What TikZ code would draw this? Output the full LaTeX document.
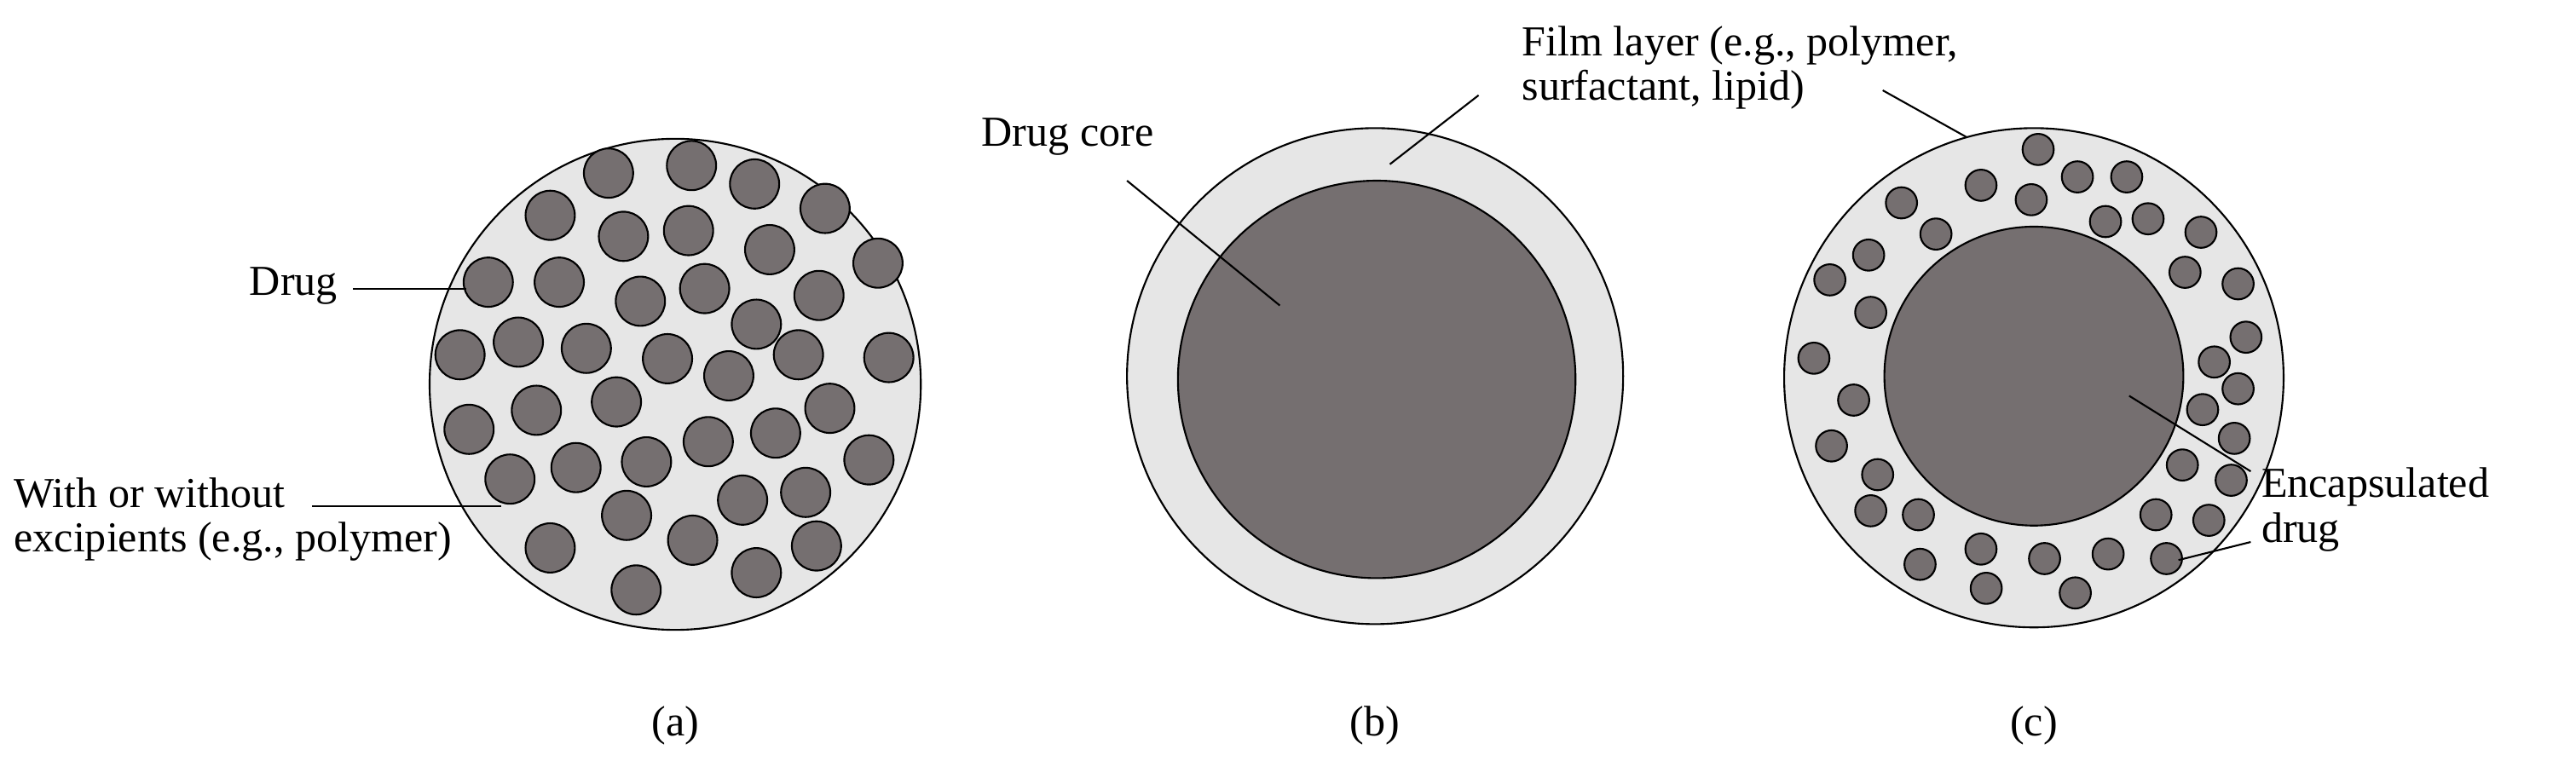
\documentclass[tikz,border=0pt]{standalone}
\usepackage{fontspec}
\setmainfont{Liberation Serif}
\definecolor{drugc}{RGB}{117,111,112}
\definecolor{filmc}{RGB}{230,230,230}
\begin{document}
\begin{tikzpicture}[x=1pt,y=-1pt,line width=1.1pt,
  film/.style={draw=black,fill=filmc},
  drug/.style={draw=black,fill=drugc},
  lbl/.style={font=\fontsize{26}{27}\selectfont,inner sep=0pt,align=left},
  lead/.style={line width=1.1pt}]
\useasboundingbox (0,0) rectangle (1568,477);
% (a)
\draw[film] (411,234) circle (149.5);
\foreach \x/\y in {370.4/105.4,420.9/100.8,459.3/112.0,502.2/126.9,334.9/131.1,379.5/143.9,419.1/140.4,468.5/152.0,534.4/160.2,297.2/171.8,340.4/171.8,389.8/183.4,428.9/175.7,460.4/197.4,498.5/179.9,280.0/216.0,315.5/208.3,356.9/212.1,406.3/218.4,443.6/228.8,486.0/216.0,541.0/217.7,326.5/249.8,375.2/244.7,505.1/248.6,285.5/261.4,431.1/268.9,472.1/263.7,528.9/280.0,310.4/291.7,350.6/284.7,393.5/281.2,452.0/304.5,490.4/299.8,381.4/313.8,334.9/333.6,421.6/328.9,497.0/332.4,387.2/359.2,460.4/348.7}
  \draw[drug] (\x,\y) circle (15);
\coordinate (ad) at (284,176);
\coordinate (ae) at (305,308);
\node[lbl,anchor=base east] (tdrug) at (206,180) {Drug};
\node[lbl,anchor=base west] (twith) at (8,336) {With or without\\excipients (e.g., polymer)};
\draw[lead] (215,176) -- (ad);
\draw[lead] (190,308) -- (ae);
\node[font=\fontsize{26}{28}\selectfont] (la) at (411,442) {(a)};
% (b)
\draw[film] (837,229) circle (151);
\draw[drug] (838,231) circle (121);
\node[lbl,anchor=base west] (tcore) at (597,89) {Drug core};
\node[lbl,anchor=base west] (tfilm) at (926,61) {Film layer (e.g., polymer,\\surfactant, lipid)};
\coordinate (bc) at (779,186);
\coordinate (bf) at (846,100);
\coordinate (cf) at (1223,98);
\draw[lead] (686,110) -- (bc);
\draw[lead] (900,58) -- (bf);
\draw[lead] (1146,55) -- (cf);
\node[font=\fontsize{26}{28}\selectfont] (lb) at (837,442) {(b)};
% (c)
\draw[film] (1238,230) circle (152);
\draw[drug] (1238,229) circle (91);
\foreach \x/\y in {1240.6/91.0,1205.8/112.8,1264.5/107.7,1294.5/107.7,1236.4/121.6,1157.4/123.5,1281.6/134.9,1307.5/133.2,1178.4/142.5,1339.7/141.4,1137.4/155.3,1113.8/170.4,1330.0/165.8,1362.3/172.8,1138.7/190.2,1367.1/205.3,1104.1/218.1,1347.8/220.4,1362.3/236.7,1128.3/243.6,1340.7/249.4,1360.0/266.9,1114.8/271.5,1328.4/283.1,1142.9/289.0,1358.1/292.4,1138.7/311.0,1167.7/313.4,1312.3/313.4,1344.5/316.8,1205.8/334.3,1244.5/340.1,1283.2/337.3,1318.7/340.1,1168.7/343.6,1209.0/358.2,1263.2/361.0}
  \draw[drug] (\x,\y) circle (9.5);
\node[lbl,anchor=base west] (tenc) at (1376,330) {Encapsulated\\drug};
\coordinate (ce) at (1296,241);
\coordinate (cd) at (1326,341);
\draw[lead] (1370,287) -- (ce);
\draw[lead] (1370,330) -- (cd);
\node[font=\fontsize{26}{28}\selectfont] (lc) at (1238,442) {(c)};
\end{tikzpicture}
\end{document}
